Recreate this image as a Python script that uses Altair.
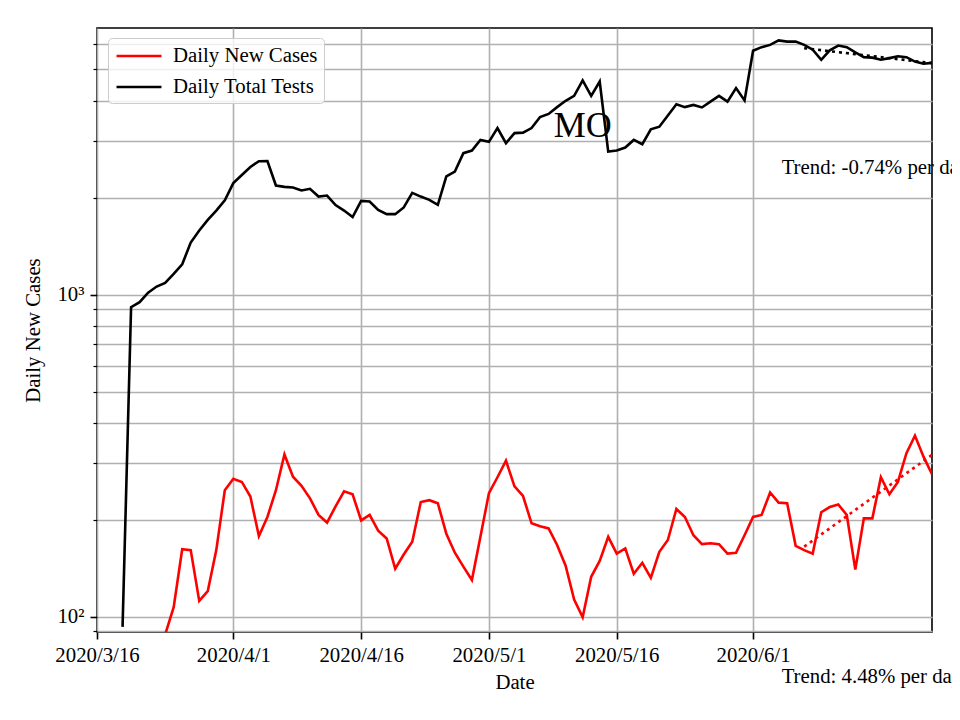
import altair as alt
import pandas as pd

FONT = "Liberation Serif"

# Daily Total Tests, daily from 2020-03-19
tests_start = "2020-03-19"
tests = [93, 914, 947, 1014, 1059, 1087, 1159, 1242, 1450, 1581,
         1706, 1823, 1963, 2218, 2350, 2489, 2595, 2598, 2181, 2160,
         2150, 2104, 2130, 2015, 2030, 1897, 1823, 1740, 1954, 1945,
         1832, 1777, 1777, 1864, 2070, 2015, 1968, 1899, 2326, 2410,
         2748, 2800, 3021, 2980, 3288, 2951, 3171, 3182, 3288, 3557,
         3638, 3819, 3996, 4140, 4620, 4140, 4587, 2780, 2800, 2861,
         3021, 2930, 3260, 3320, 3597, 3900, 3819, 3880, 3810, 3972,
         4140, 3972, 4375, 4005, 5715, 5862, 5958, 6150, 6100, 6100,
         5958, 5757, 5357, 5730, 5930, 5862, 5645, 5458, 5440, 5357,
         5420, 5495, 5458, 5290, 5205, 5240]

# Daily New Cases, daily from 2020-03-23
cases_start = "2020-03-23"
cases = [60, 88, 107, 162, 161, 112, 120, 161, 247, 268,
         262, 236, 178, 204, 247, 319, 272, 255, 233, 207,
         196, 220, 245, 240, 199, 207, 185, 175, 141, 156,
         171, 227, 230, 225, 181, 158, 143, 130, 177, 242,
         271, 305, 254, 237, 195, 191, 188, 167, 144, 113,
         99.6, 133, 149, 177, 157, 163, 136, 147, 132, 159,
         173, 216, 204, 179, 168, 169, 168, 157, 158, 179,
         204, 207, 243, 226, 225, 166, 161, 157, 211, 219,
         223, 207, 140, 202, 202, 271, 240, 262, 322, 365,
         314, 277]

# Trend fits (start / end of last 15 days)
trend_dates = ["2020-06-07", "2020-06-22"]
cases_trend = [165, 318]
tests_trend = [5820, 5230]

series_names = ["Daily New Cases", "Daily Total Tests"]
series_colors = ["#ff0000", "#000000"]

x_ticks = [(3, 16), (4, 1), (4, 16), (5, 1), (5, 16), (6, 1)]
y_ticks = [90, 100, 200, 300, 400, 500, 600, 700, 800, 900,
           1000, 2000, 3000, 4000, 5000, 6000]

title_text = "MO"
title_pos = ("2020-05-12", 3090)
trend_texts = ["Trend: -0.74% per day", "Trend: 4.48% per day"]
trend_text_pos = [("2020-06-04", 2367), ("2020-06-04", 62.1)]


def frame(start, vals, name):
    dates = pd.date_range(start, periods=len(vals), freq="D").strftime("%Y-%m-%d")
    return pd.DataFrame({"date": list(dates), "value": vals, "series": name})


df = pd.concat([frame(cases_start, cases, series_names[0]),
                frame(tests_start, tests, series_names[1])], ignore_index=True)

x_scale = alt.Scale(type="utc",
                    domain=[alt.DateTime(year=2020, month=3, date=16, utc=True),
                            alt.DateTime(year=2020, month=6, date=22, utc=True)])
y_scale = alt.Scale(type="log", domain=[89.65, 6723], nice=False)

x_axis = alt.Axis(
    values=[alt.DateTime(year=2020, month=m, date=d, utc=True) for m, d in x_ticks],
    labelExpr="utcFormat(datum.value, '%Y/%-m/%-d')",
    title="Date", grid=True, labelOverlap=False, labelFlush=False, labelBound=False,
    tickSize=7, tickWidth=1.6, labelPadding=6, titlePadding=8,
)
y_axis = alt.Axis(
    values=y_ticks,
    labelExpr="datum.value == 100 ? '10²' : datum.value == 1000 ? '10³' : ''",
    title="Daily New Cases", grid=True,
    tickSize={"condition": {"test": "datum.value == 100 || datum.value == 1000", "value": 7}, "value": 4},
    tickWidth={"condition": {"test": "datum.value == 100 || datum.value == 1000", "value": 1.6}, "value": 1.2},
    labelPadding=6, titlePadding=13,
)

x_enc = alt.X("date:T", scale=x_scale, axis=x_axis)
y_enc = alt.Y("value:Q", scale=y_scale, axis=y_axis)

lines = alt.Chart(df).mark_line(strokeWidth=2.6, clip=True).encode(
    x=x_enc, y=y_enc,
    color=alt.Color("series:N",
                    scale=alt.Scale(domain=series_names, range=series_colors),
                    legend=alt.Legend(title=None, orient="none", legendX=11, legendY=10,
                                      symbolType="M-2.16,0H2.16", symbolSize=433,
                                      symbolOffset=13,
                                      symbolStrokeWidth=2.7, labelFont=FONT,
                                      labelFontSize=20.8, labelOffset=22,
                                      rowPadding=9, padding=6,
                                      fillColor="rgba(255,255,255,0.8)",
                                      strokeColor="#cccccc", cornerRadius=4)),
)

trend_red = alt.Chart(pd.DataFrame({"date": trend_dates, "value": cases_trend})).mark_line(
    strokeWidth=2.6, strokeDash=[3, 4], color=series_colors[0], clip=True
).encode(x="date:T", y="value:Q")
trend_black = alt.Chart(pd.DataFrame({"date": trend_dates, "value": tests_trend})).mark_line(
    strokeWidth=2.6, strokeDash=[3, 4], color=series_colors[1], clip=True
).encode(x="date:T", y="value:Q")

title_df = pd.DataFrame({"date": [title_pos[0]], "value": [title_pos[1]], "text": [title_text]})
title_mark = alt.Chart(title_df).mark_text(
    font=FONT, fontSize=36, align="center", baseline="alphabetic", color="black"
).encode(x="date:T", y="value:Q", text="text:N")

tt_df = pd.DataFrame({"date": [p[0] for p in trend_text_pos],
                      "value": [p[1] for p in trend_text_pos],
                      "text": trend_texts})
tt_mark = alt.Chart(tt_df).mark_text(
    font=FONT, fontSize=20.8, align="left", baseline="alphabetic", dx=3, color="black"
).encode(x="date:T", y="value:Q", text="text:N")

chart = alt.layer(lines, trend_red, trend_black, title_mark, tt_mark).properties(
    width=835, height=604,
    autosize=alt.AutoSizeParams(type="none"),
    padding={"left": 89, "top": 20, "right": 20, "bottom": 80},
).configure_view(
    stroke="black", strokeWidth=1.6
).configure_axis(
    labelFont=FONT, titleFont=FONT, labelFontSize=20.8, titleFontSize=20.8,
    titleFontWeight="normal", labelColor="black", titleColor="black",
    gridColor="#b0b0b0", gridWidth=1.6, domain=False, tickColor="black",
)

chart.save("out.html", embed_options={"renderer": "svg", "actions": False})
